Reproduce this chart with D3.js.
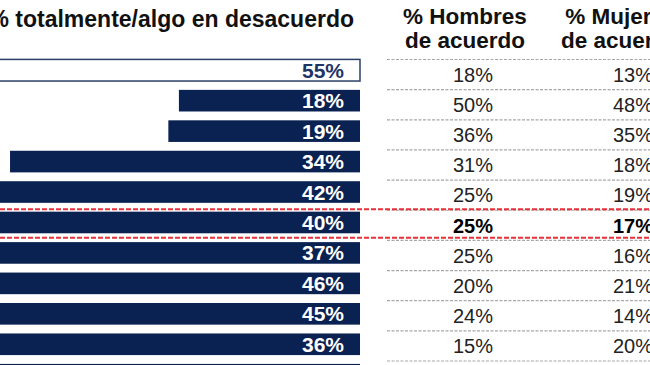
<!DOCTYPE html>
<html>
<head>
<meta charset="utf-8">
<script src="https://cdn.jsdelivr.net/npm/d3@7"></script>
<style>
  html, body { margin: 0; padding: 0; background: #fff; }
  svg { display: block; font-family: "Liberation Sans", Arial, sans-serif; }
</style>
</head>
<body>
<svg id="chart" width="650" height="365"></svg>
<script>
// ---- data ----
const rows = ["r1","r2","r3","r4","r5","r6","r7","r8","r9","r10","r11"];
const desacuerdo = [55, 18, 19, 34, 42, 40, 37, 46, 45, 36, 40];
const hombres = [18, 50, 36, 31, 25, 25, 25, 20, 24, 15];
const mujeres = [13, 48, 35, 18, 19, 17, 16, 21, 14, 20];
const highlightRow = 5;        // index of the row framed by red dashes
const outlinedRow = 0;         // index of the row drawn as outlined bar
const titleText = "% totalmente/algo en desacuerdo";
const headHombres = ["% Hombres", "de acuerdo"];
const headMujeres = ["% Mujeres", "de acuerdo"];

const navy = "#0a2252";
const svg = d3.select("#chart");

// ---- scales ----
const x = d3.scaleLinear().domain([0, 34.95]).range([368.9, 0]);
const barRight = 360;
const y = d3.scaleBand().domain(rows).range([55, 55 + 30.45 * rows.length])
  .paddingInner(0.29).paddingOuter(0.145);
const yt = d3.scaleBand().domain(rows.slice(0, 10)).range([59.5, 361]);
const colH = 473, colM = 633;

// ---- title & headers ----
svg.append("text").attr("x", 354).attr("y", 27).attr("text-anchor", "end")
  .attr("font-size", 23).attr("font-weight", "bold").attr("fill", "#111")
  .text(titleText);

[[465, headHombres], [621, headMujeres]].forEach(([cx, lines]) => {
  svg.append("text").attr("x", cx).attr("y", 24).attr("text-anchor", "middle")
    .attr("font-size", 22.5).attr("font-weight", "bold").attr("fill", "#111").text(lines[0]);
  svg.append("text").attr("x", cx).attr("y", 48).attr("text-anchor", "middle")
    .attr("font-size", 22.5).attr("font-weight", "bold").attr("fill", "#111").text(lines[1]);
});

// ---- table separators ----
const sepYs = [59.5].concat(rows.slice(0, 10).map(r => yt(r) + yt.bandwidth()));
svg.append("g").selectAll("line").data(sepYs).join("line")
  .attr("x1", 387).attr("x2", 650)
  .attr("y1", d => d).attr("y2", d => d)
  .attr("stroke", "#a8a8a8").attr("stroke-width", 1.2)
  .attr("stroke-dasharray", "3,1.5");

// ---- bars ----
const bars = svg.append("g");
bars.selectAll("rect").data(desacuerdo).join("rect")
  .attr("x", d => x(d))
  .attr("y", (d, i) => y(rows[i]))
  .attr("width", d => barRight - x(d))
  .attr("height", y.bandwidth())
  .attr("fill", (d, i) => i === outlinedRow ? "#fff" : navy)
  .attr("stroke", (d, i) => i === outlinedRow ? "#2a3f66" : "none")
  .attr("stroke-width", 1.5);

bars.selectAll("text").data(desacuerdo).join("text")
  .attr("x", 344)
  .attr("y", (d, i) => y(rows[i]) + y.bandwidth() / 2 + 7.5)
  .attr("text-anchor", "end")
  .attr("font-size", 21).attr("font-weight", "bold")
  .attr("fill", (d, i) => i === outlinedRow ? "#1f3566" : "#fff")
  .text(d => d + "%");

// ---- table values ----
[[hombres, colH], [mujeres, colM]].forEach(([vals, cx]) => {
  svg.append("g").selectAll("text").data(vals).join("text")
    .attr("x", cx)
    .attr("y", (d, i) => yt(rows[i]) + yt.bandwidth() / 2 + 7.3)
    .attr("text-anchor", "middle")
    .attr("font-size", 20)
    .attr("font-weight", (d, i) => i === highlightRow ? "bold" : "normal")
    .attr("fill", (d, i) => i === highlightRow ? "#000" : "#222")
    .text(d => d + "%");
});

// ---- red dashed highlight ----
const hl = rows[highlightRow];
[y(hl) - 2.5, y(hl) + y.bandwidth() + 4.5].forEach(yy => {
  svg.append("line").attr("x1", 0).attr("x2", 650).attr("y1", yy).attr("y2", yy)
    .attr("stroke", "#e8303a").attr("stroke-width", 2)
    .attr("stroke-dasharray", "5,2");
});
</script>
</body>
</html>
